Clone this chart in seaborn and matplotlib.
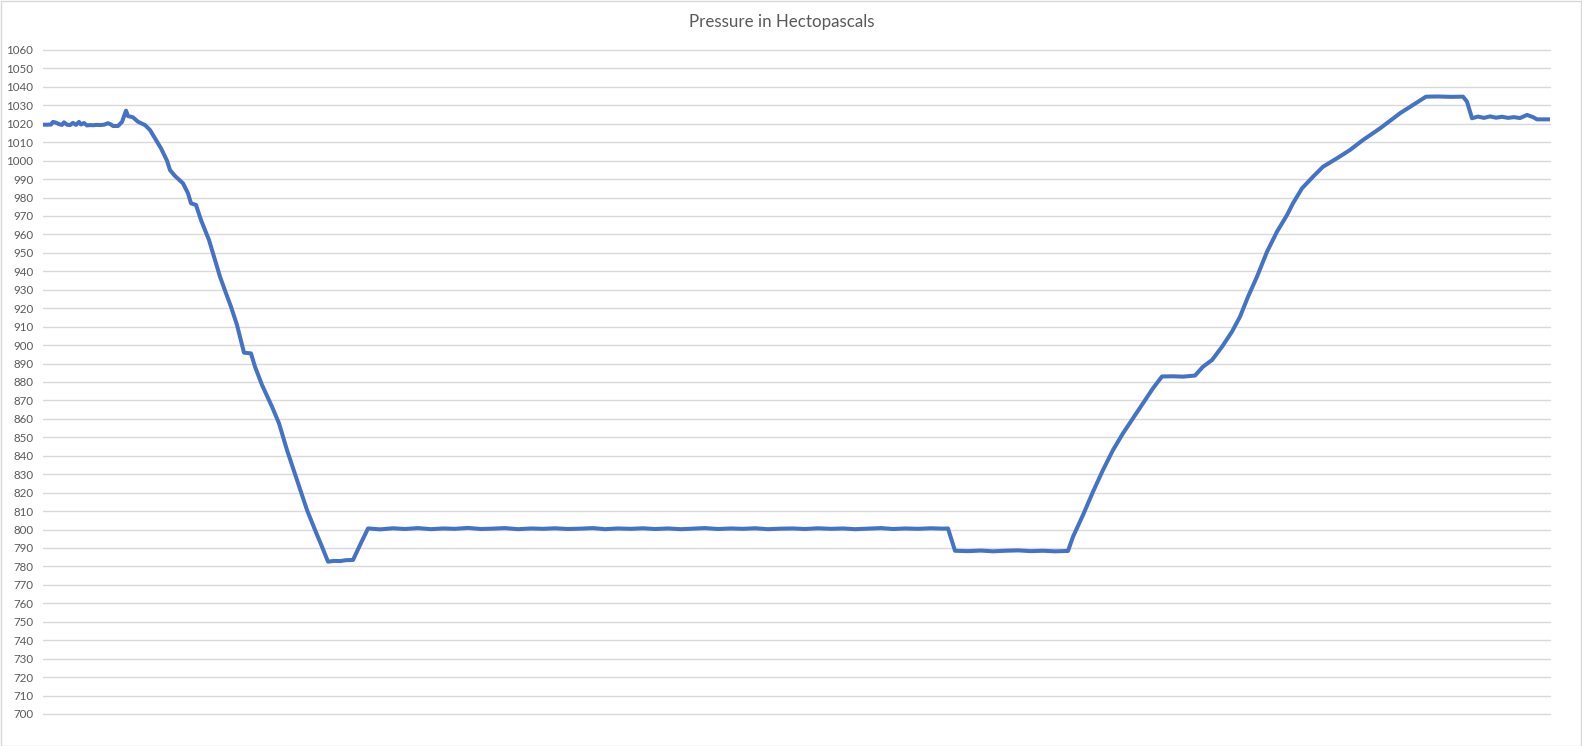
import matplotlib
matplotlib.use("Agg")
import matplotlib.pyplot as plt
import seaborn as sns
import pandas as pd
from matplotlib.patches import Rectangle

# ---- data (sample index, pressure hPa) ----
sample = [
    0, 4, 8, 10, 13, 16, 19, 21, 24, 27, 30, 33, 36, 38, 41, 44, 47, 50, 54, 57,
    61, 65, 68, 70, 75, 79, 83, 85, 90, 95, 102, 107, 112, 118, 124, 127, 132, 140,
    145, 148, 153, 158, 166, 172, 177, 183, 188, 194, 201, 208, 212, 219, 229, 236,
    244, 254, 264, 272, 279, 285, 291, 297, 303, 310, 317, 325,
    337, 350, 362, 375, 388, 400, 412, 425, 438, 450, 462, 475, 488, 500, 512, 525,
    538, 550, 562, 575, 588, 600, 612, 625, 638, 650, 662, 675, 688, 700, 712, 725,
    738, 750, 762, 775, 788, 800, 812, 825, 838, 850, 862, 875, 888, 900, 905,
    912, 925, 938, 950, 962, 975, 988, 1000, 1012, 1025,
    1030, 1040, 1050, 1060, 1070, 1080, 1090, 1100, 1110, 1119, 1130, 1140, 1152,
    1160, 1169, 1179, 1189, 1197, 1205, 1214, 1224, 1234, 1244, 1250, 1259, 1270,
    1280, 1294, 1307, 1320, 1337, 1357, 1370, 1383, 1395, 1408, 1420, 1424, 1429,
    1435, 1441, 1447, 1453, 1459, 1465, 1471, 1477, 1484, 1490, 1494, 1500, 1507,
]
pressure = [
    1019.5, 1019.5, 1019.6, 1021.0, 1020.6, 1019.8, 1019.4, 1020.8, 1019.5, 1019.3,
    1020.5, 1019.4, 1021.0, 1019.6, 1020.4, 1019.1, 1019.3, 1019.2, 1019.4, 1019.3,
    1019.5, 1020.3, 1019.6, 1018.8, 1018.8, 1021.0, 1027.1, 1024.2, 1023.5, 1021.1,
    1019.3, 1016.6, 1012.1, 1006.7, 1000.0, 994.9, 991.7, 987.7,
    982.3, 976.9, 976.0, 967.8, 957.0, 946.1, 937.1, 928.1, 920.8, 910.9, 895.9, 895.5,
    888.3, 878.4, 866.6, 857.6,
    843.1, 826.9, 810.6, 799.8, 790.7, 782.6, 783.0, 782.9, 783.4, 783.5, 791.6, 800.6,
    800.1, 800.7, 800.3, 800.8, 800.2, 800.6, 800.4, 800.9, 800.3, 800.5, 800.8, 800.2,
    800.6, 800.4, 800.7, 800.3, 800.5, 800.8, 800.2, 800.6, 800.4, 800.7, 800.3, 800.6,
    800.2, 800.5, 800.8, 800.3, 800.6, 800.4, 800.7, 800.2, 800.5, 800.6, 800.3, 800.7,
    800.4, 800.6, 800.2, 800.5, 800.8, 800.3, 800.6, 800.4, 800.7, 800.5, 800.6,
    788.5, 788.3, 788.6, 788.2, 788.5, 788.7, 788.3, 788.5, 788.2, 788.4,
    796.1, 807.9, 820.5, 832.3, 843.1, 852.2, 860.3, 868.4, 876.6, 883.0, 883.1, 882.9,
    883.5, 888.3, 891.9, 899.1, 907.3, 915.4, 926.2, 937.1, 950.6, 961.5, 970.5, 976.9,
    985.0, 991.3, 996.7, 1001.3, 1005.8, 1011.2, 1017.5, 1025.7, 1030.2, 1034.7,
    1034.8, 1034.6, 1034.7, 1032.0, 1023.0,
    1023.9, 1023.2, 1024.0, 1023.3, 1023.8, 1023.2, 1023.6, 1023.1, 1024.8,
    1023.6, 1022.4, 1022.4, 1022.4,
]

y_ticks = list(range(700, 1070, 10))
title_text = "Pressure in Hectopascals"

df = pd.DataFrame({"sample": sample, "pressure": pressure})

sns.set_style("white")
plt.rcParams["font.family"] = ["Lato", "DejaVu Sans"]

W, H = 1582, 746
fig = plt.figure(figsize=(W / 100, H / 100), dpi=100)
ax = fig.add_axes([43 / W, 1 - 714 / H, (1550 - 43) / W, (714 - 50) / H])

sns.lineplot(data=df, x="sample", y="pressure", ax=ax, color="#4472C4",
             linewidth=2.9, solid_joinstyle="round", solid_capstyle="round")

ax.set_xlim(min(sample), max(sample))
ax.set_ylim(700, 1060)
ax.set_yticks(y_ticks)
ax.set_yticklabels([str(t) for t in y_ticks])
ax.set_xticks([])
ax.set_xlabel("")
ax.set_ylabel("")
ax.grid(axis="y", color="#D9D9D9", linewidth=1.0)
for gl in ax.get_ygridlines():
    gl.set_clip_on(False)
ax.set_axisbelow(True)
for s in ax.spines.values():
    s.set_visible(False)
ax.tick_params(axis="y", length=0, pad=7, labelsize=8.3, labelcolor="#595959")

fig.text(782 / W, 1 - 22 / H, title_text, ha="center", va="center",
         fontsize=12.2, color="#595959")

fig.patches.append(Rectangle((0.5 / W, 0.5 / H), 1 - 1.5 / W, 1 - 1.5 / H,
                             transform=fig.transFigure, fill=False,
                             edgecolor="#D9D9D9", linewidth=1.0))

fig.savefig("out.png", dpi=100)
